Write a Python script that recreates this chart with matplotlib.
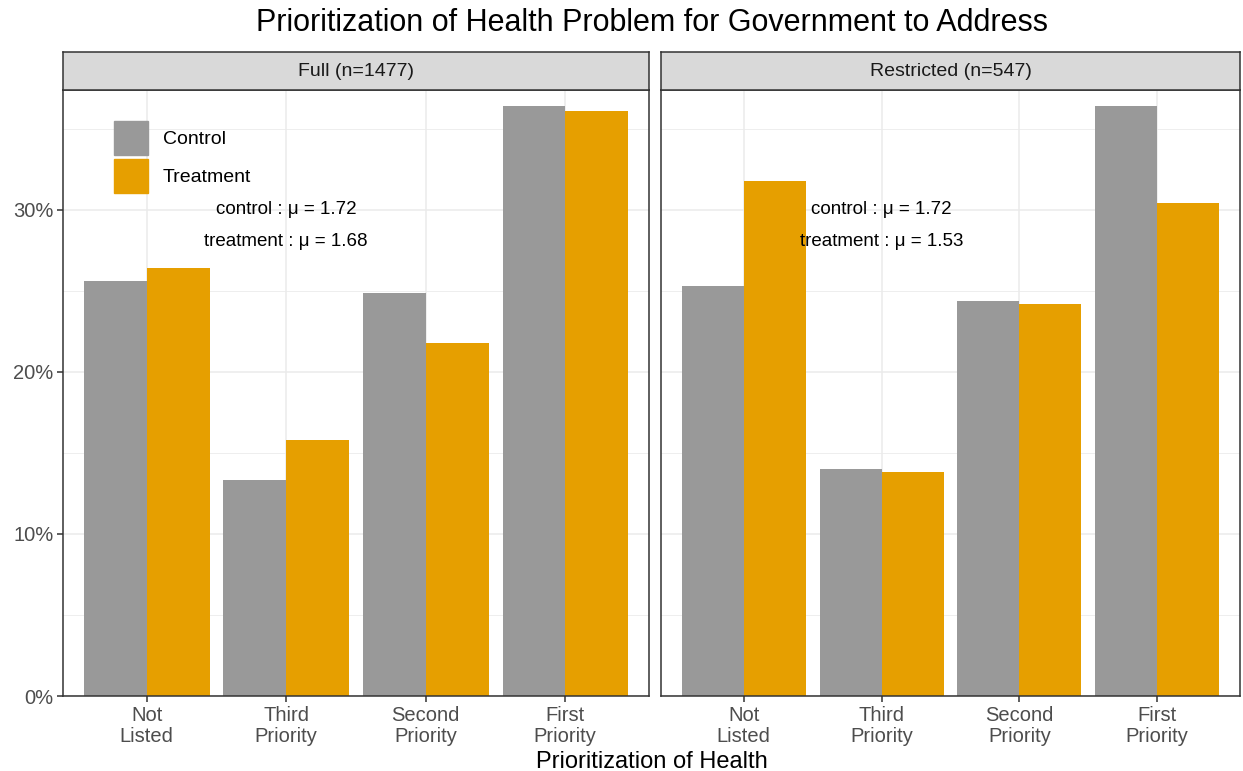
import matplotlib
matplotlib.use("Agg")
import matplotlib.pyplot as plt
from matplotlib.patches import Patch
from matplotlib.ticker import FixedLocator, PercentFormatter
import numpy as np

plt.rcParams["font.family"] = ["Liberation Sans", "DejaVu Sans"]

categories = ["Not\nListed", "Third\nPriority", "Second\nPriority", "First\nPriority"]
panels = ["Full (n=1477)", "Restricted (n=547)"]

full_control = [25.6, 13.3, 24.9, 36.4]
full_treatment = [26.4, 15.8, 21.8, 36.1]
restricted_control = [25.3, 14.0, 24.4, 36.4]
restricted_treatment = [31.8, 13.8, 24.2, 30.4]

control_means = [1.72, 1.72]
treatment_means = [1.68, 1.53]

grey = "#999999"
orange = "#E69F00"
grid_col = "#EBEBEB"
dark = "#333333"

W, H = 1243, 771
fig = plt.figure(figsize=(W / 100, H / 100), dpi=100)

panel_px = [(63, 649), (661, 1240)]
top, bottom, strip_top = 90, 696, 52

data = [(full_control, full_treatment), (restricted_control, restricted_treatment)]
x = np.arange(1, len(categories) + 1)
bw = 0.45

for i, (x0, x1) in enumerate(panel_px):
    ax = fig.add_axes([x0 / W, (H - bottom) / H, (x1 - x0) / W, (bottom - top) / H])
    ctrl, trt = data[i]
    ax.bar(x - bw / 2, ctrl, width=bw, color=grey, label="Control", zorder=2)
    ax.bar(x + bw / 2, trt, width=bw, color=orange, label="Treatment", zorder=2)

    ax.set_xlim(0.4, 4.6)
    ax.set_ylim(0, 37.4)
    ax.set_xticks(x)
    ax.yaxis.set_major_locator(FixedLocator([0, 10, 20, 30]))
    ax.yaxis.set_minor_locator(FixedLocator([5, 15, 25, 35]))
    ax.yaxis.set_major_formatter(PercentFormatter(decimals=0))
    ax.grid(True, which="major", color=grid_col, lw=1.1, zorder=0)
    ax.grid(True, which="minor", axis="y", color=grid_col, lw=0.6, zorder=0)
    ax.set_axisbelow(True)
    ax.tick_params(which="minor", length=0)
    ax.tick_params(which="major", length=4, width=1.1, color=dark, labelsize=14.5, labelcolor="#4D4D4D", pad=3)
    for sp in ax.spines.values():
        sp.set_color(dark)
        sp.set_linewidth(1.1)
    ax.set_xticklabels(categories, linespacing=1.12)

    if i == 0:
        ax.legend(handles=[Patch(color=grey, label="Control"), Patch(color=orange, label="Treatment")],
                  loc="upper left", bbox_to_anchor=(0.087, 0.949), frameon=False, fontsize=14,
                  handlelength=1.75, handleheight=2.315, labelspacing=0.2, handletextpad=0.77,
                  borderpad=0, borderaxespad=0)
    else:
        ax.tick_params(axis="y", labelleft=False, length=0)

    ax.text(2, 30.05, f"control : \u03bc = {control_means[i]:.2f}", ha="center", va="center",
            fontsize=13.5, zorder=3)
    ax.text(2, 28.05, f"treatment : \u03bc = {treatment_means[i]:.2f}", ha="center", va="center",
            fontsize=13.5, zorder=3)

    sax = fig.add_axes([x0 / W, (H - top) / H, (x1 - x0) / W, (top - strip_top) / H])
    sax.set_facecolor("#D9D9D9")
    sax.set_xticks([])
    sax.set_yticks([])
    for sp in sax.spines.values():
        sp.set_color(dark)
        sp.set_linewidth(1.1)
    sax.text(0.5, 0.5, panels[i], ha="center", va="center", fontsize=14, color="#1A1A1A",
             transform=sax.transAxes)

fig.text(0.5 * (63 + 1240) / W, 1 - 23 / H, "Prioritization of Health Problem for Government to Address",
         ha="center", va="center", fontsize=22)
fig.text(0.5 * (63 + 1240) / W, 1 - 762 / H, "Prioritization of Health", ha="center", va="center",
         fontsize=17)

fig.savefig("out.png", dpi=100)
